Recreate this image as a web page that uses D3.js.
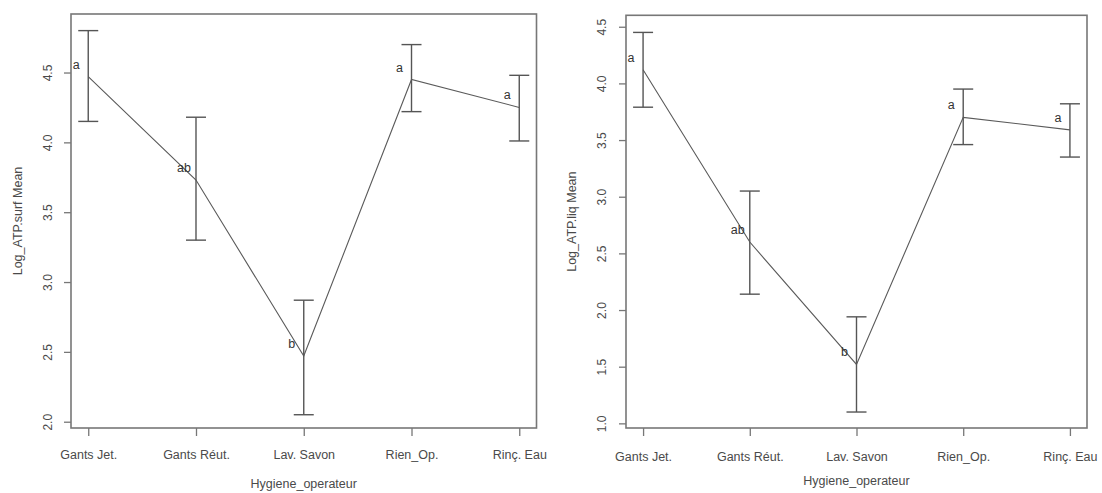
<!DOCTYPE html>
<html>
<head>
<meta charset="utf-8">
<script src="https://cdn.jsdelivr.net/npm/d3@7/dist/d3.min.js"></script>
<style>
  html, body { margin: 0; padding: 0; background: #fff; }
  svg { display: block; }
  text { font-family: "Liberation Sans", Arial, sans-serif; fill: #333; }
</style>
</head>
<body>
<svg id="chart" width="1102" height="493"></svg>
<script>
const categories = ["Gants Jet.", "Gants Réut.", "Lav. Savon", "Rien_Op.", "Rinç. Eau"];
const groupLetters = ["a", "ab", "b", "a", "a"];

const surfMean  = [4.47, 3.73, 2.47, 4.45, 4.25];
const surfLower = [4.15, 3.30, 2.05, 4.22, 4.01];
const surfUpper = [4.80, 4.18, 2.87, 4.70, 4.48];

const liqMean  = [4.12, 2.60, 1.52, 3.70, 3.59];
const liqLower = [3.79, 2.14, 1.10, 3.46, 3.35];
const liqUpper = [4.45, 3.05, 1.94, 3.95, 3.82];

const surfTicks = [2.0, 2.5, 3.0, 3.5, 4.0, 4.5];
const liqTicks  = [1.0, 1.5, 2.0, 2.5, 3.0, 3.5, 4.0, 4.5];

const xTitle = "Hygiene_operateur";
const surfYTitle = "Log_ATP.surf Mean";
const liqYTitle = "Log_ATP.liq Mean";

const svg = d3.select("#chart");

function panel(cfg) {
  const g = svg.append("g");
  const x = d3.scaleLinear().domain([0.84, 5.16]).range([cfg.left, cfg.right]);
  const y = d3.scaleLinear().domain(cfg.yDomain).range([cfg.bottom, cfg.top]);
  const axisCol = "#777";

  // box
  g.append("rect")
    .attr("x", cfg.left).attr("y", cfg.top)
    .attr("width", cfg.right - cfg.left).attr("height", cfg.bottom - cfg.top)
    .attr("fill", "none").attr("stroke", axisCol).attr("stroke-width", 1.6);

  // y axis
  const ya = g.append("g").attr("transform", `translate(${cfg.left},0)`)
    .call(d3.axisLeft(y).tickValues(cfg.ticks).tickFormat(d3.format(".1f")).tickSize(7).tickPadding(9));
  ya.select(".domain").remove();
  ya.selectAll(".tick line").attr("stroke", axisCol).attr("stroke-width", 1.3);
  ya.selectAll(".tick text")
    .attr("x", 0).attr("dy", 0)
    .attr("transform", d => `translate(${cfg.yLabelX - cfg.left},0) rotate(-90)`)
    .attr("text-anchor", "middle")
    .attr("dominant-baseline", "central")
    .style("font-size", "12px").style("fill", "#4a4a4a");

  // x axis
  const xa = g.append("g").attr("transform", `translate(0,${cfg.bottom})`)
    .call(d3.axisBottom(x).tickValues([1, 2, 3, 4, 5]).tickFormat(i => categories[i - 1]).tickSize(8).tickPadding(0));
  xa.select(".domain").remove();
  xa.selectAll(".tick line").attr("stroke", axisCol).attr("stroke-width", 1.3);
  xa.selectAll(".tick text")
    .attr("y", cfg.xLabelY - cfg.bottom).attr("dy", 0)
    .style("font-size", "12.5px").style("fill", "#4a4a4a");

  // titles
  g.append("text").attr("x", (cfg.left + cfg.right) / 2).attr("y", cfg.xTitleY)
    .attr("text-anchor", "middle").style("font-size", "12.5px").style("fill", "#4a4a4a").text(xTitle);
  g.append("text")
    .attr("transform", `translate(${cfg.yTitleX},${(cfg.top + cfg.bottom) / 2}) rotate(-90)`)
    .attr("text-anchor", "middle").attr("dominant-baseline", "central")
    .style("font-size", "12.5px").style("fill", "#4a4a4a").text(cfg.yTitle);

  const idx = d3.range(categories.length);

  // mean line
  const line = d3.line().x(i => x(i + 1)).y(i => y(cfg.mean[i]));
  g.append("path").datum(idx).attr("d", line)
    .attr("fill", "none").attr("stroke", "#5a5a5a").attr("stroke-width", 1.1);

  // error bars
  const eb = g.selectAll(".eb").data(idx).enter().append("g");
  eb.append("line")
    .attr("x1", i => x(i + 1)).attr("x2", i => x(i + 1))
    .attr("y1", i => y(cfg.lower[i])).attr("y2", i => y(cfg.upper[i]))
    .attr("stroke", "#555").attr("stroke-width", 1.4);
  eb.append("line")
    .attr("x1", i => x(i + 1) - 10).attr("x2", i => x(i + 1) + 10)
    .attr("y1", i => y(cfg.upper[i])).attr("y2", i => y(cfg.upper[i]))
    .attr("stroke", "#555").attr("stroke-width", 1.4);
  eb.append("line")
    .attr("x1", i => x(i + 1) - 10).attr("x2", i => x(i + 1) + 10)
    .attr("y1", i => y(cfg.lower[i])).attr("y2", i => y(cfg.lower[i]))
    .attr("stroke", "#555").attr("stroke-width", 1.4);

  // letters
  g.selectAll(".lt").data(idx).enter().append("text")
    .attr("x", i => x(i + 1) - 12).attr("y", i => y(cfg.mean[i]) - 8)
    .attr("text-anchor", "middle").style("font-size", "12.5px").style("fill", "#333")
    .text(i => groupLetters[i]);
}

panel({
  left: 71, right: 536.5, top: 14, bottom: 428,
  yDomain: [1.955, 4.919], ticks: surfTicks,
  mean: surfMean, lower: surfLower, upper: surfUpper,
  yLabelX: 48, yTitleX: 18, yTitle: surfYTitle,
  xLabelY: 459, xTitleY: 488
});

panel({
  left: 626, right: 1087, top: 15.3, bottom: 428,
  yDomain: [0.959, 4.601], ticks: liqTicks,
  mean: liqMean, lower: liqLower, upper: liqUpper,
  yLabelX: 602, yTitleX: 572, yTitle: liqYTitle,
  xLabelY: 461, xTitleY: 485
});
</script>
</body>
</html>
